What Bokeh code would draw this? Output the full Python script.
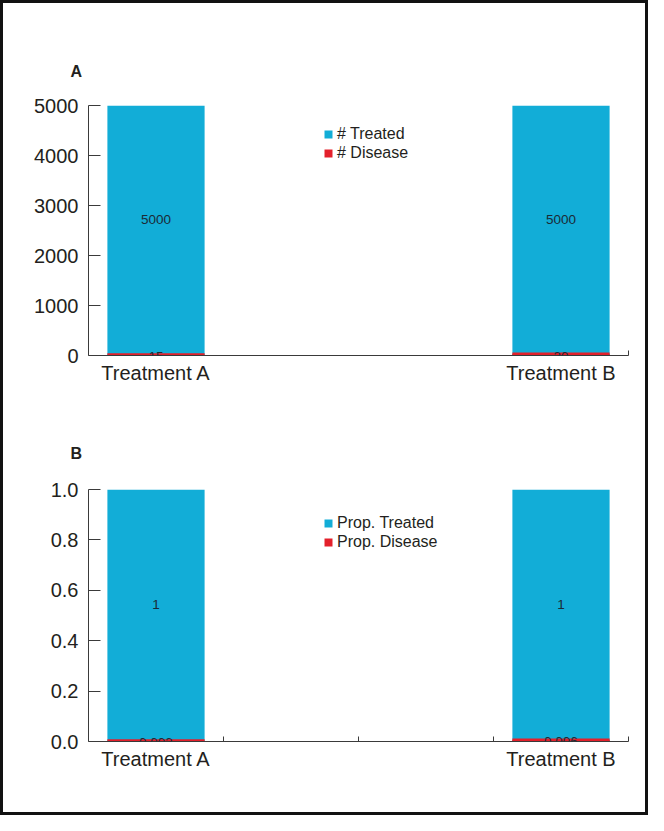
from bokeh.plotting import figure
from bokeh.layouts import column
from bokeh.models import (ColumnDataSource, Range1d, FixedTicker, Legend,
                          LegendItem, LabelSet)
from bokeh.core.properties import value
from bokeh.embed import file_html
from bokeh.resources import INLINE

# ---------------- data ----------------
categories = ["Treatment A", "Treatment B"]
treated_counts = [5000, 5000]
disease_counts = [15, 30]
treated_props = [1, 1]
disease_props = [0.003, 0.006]
count_ticks = [0, 1000, 2000, 3000, 4000, 5000]
count_tick_labels = ["0", "1000", "2000", "3000", "4000", "5000"]
prop_ticks = [0.0, 0.2, 0.4, 0.6, 0.8, 1.0]
prop_tick_labels = ["0.0", "0.2", "0.4", "0.6", "0.8", "1.0"]
count_legend = ["# Treated", "# Disease"]
prop_legend = ["Prop. Treated", "Prop. Disease"]

# ---------------- style ----------------
FONT = "Liberation Sans"
BLUE = "#12ADD7"
RED = "#E3202B"
INK = "#231F20"
AXIS = "#3a3a3a"
LBL = "#1b2a36"

SLOT = 3.0          # distance between category slots (x units)
X_END = 4.0
BAR_W = 0.72


def fmt(v):
    return f"{v:g}"


def make_panel(letter, treated, disease, yticks, ylabels, legend_labels, minor,
               height, top, bottom, legend_loc, title_standoff):
    xs = [0.5 + SLOT * i for i in range(len(categories))]
    src = ColumnDataSource(dict(
        x=xs,
        treated=treated,
        disease=disease,
        tmid=[t / 2 for t in treated],
        tlabel=[fmt(t) for t in treated],
        dlabel=[fmt(d) for d in disease],
    ))
    p = figure(width=642, height=height,
               x_range=Range1d(0, X_END), y_range=Range1d(0, yticks[-1]),
               output_backend="svg", toolbar_location=None,
               min_border_left=85, min_border_right=17,
               min_border_top=top, min_border_bottom=bottom)
    p.outline_line_color = None
    p.grid.visible = False
    p.background_fill_color = "white"
    p.border_fill_color = "white"

    p.title.text = letter
    p.title.align = "left"
    p.title.offset = -18
    p.title.standoff = title_standoff
    p.title.text_font = FONT
    p.title.text_font_size = "16px"
    p.title.text_font_style = "bold"
    p.title.text_color = INK

    r1 = p.vbar(x="x", top="treated", bottom=0, width=BAR_W, source=src,
                fill_color=BLUE, line_color=None)
    r2 = p.vbar(x="x", top="disease", bottom=0, width=BAR_W, source=src,
                fill_color=RED, line_color=None)
    p.vbar(x="x", top="disease", bottom=0, width=BAR_W - 0.022, source=src,
           fill_color=None, line_color=RED, line_width=3, line_join="miter")

    p.add_layout(LabelSet(x="x", y="tmid", text="tlabel", source=src,
                          text_align="center", text_baseline="middle",
                          y_offset=11, text_font=value(FONT),
                          text_font_size=value("13.5px"), text_color=LBL))
    p.add_layout(LabelSet(x="x", y="disease", text="dlabel", source=src,
                          text_align="center", text_baseline="middle",
                          y_offset=-2, text_font=value(FONT),
                          text_font_size=value("13.5px"), text_color=LBL))

    # x axis: category names at slot centres, small inward ticks as minor ticks
    xa = p.xaxis[0]
    xa.ticker = FixedTicker(ticks=xs, minor_ticks=minor)
    xa.major_label_overrides = {x: c for x, c in zip(xs, categories)}
    xa.major_tick_in = 0
    xa.major_tick_out = 0
    xa.minor_tick_in = 5
    xa.minor_tick_out = 0
    xa.minor_tick_line_color = AXIS
    xa.axis_line_color = AXIS
    xa.major_label_standoff = 6
    xa.major_label_text_font = FONT
    xa.major_label_text_font_size = "20px"
    xa.major_label_text_color = INK

    ya = p.yaxis[0]
    ya.ticker = FixedTicker(ticks=yticks, minor_ticks=[])
    ya.major_label_overrides = {t: s for t, s in zip(yticks, ylabels)}
    ya.major_tick_in = 12
    ya.major_tick_out = 0
    ya.major_tick_line_color = AXIS
    ya.axis_line_color = AXIS
    ya.major_label_standoff = 10
    ya.major_label_text_font = FONT
    ya.major_label_text_font_size = "20px"
    ya.major_label_text_color = INK

    legend = Legend(items=[LegendItem(label=legend_labels[0], renderers=[r1]),
                           LegendItem(label=legend_labels[1], renderers=[r2])],
                    location=legend_loc)
    legend.glyph_width = 10
    legend.glyph_height = 10
    legend.label_height = 16
    legend.label_standoff = 4
    legend.spacing = 1
    legend.padding = 0
    legend.margin = 0
    legend.border_line_color = None
    legend.background_fill_alpha = 0
    legend.label_text_font = FONT
    legend.label_text_font_size = "16px"
    legend.label_text_color = INK
    p.add_layout(legend)
    return p


p1 = make_panel("A", treated_counts, disease_counts, count_ticks,
                count_tick_labels, count_legend, [X_END],
                height=410, top=102, bottom=58, legend_loc=(235, 193),
                title_standoff=52)
p2 = make_panel("B", treated_props, disease_props, prop_ticks,
                prop_tick_labels, prop_legend, [1.0, 2.0, 3.0, X_END],
                height=399, top=76, bottom=71, legend_loc=(235, 190),
                title_standoff=55)

page = column(p1, p2, styles={"border": "3px solid #111111"})

open("out.html", "w").write(file_html(page, INLINE))
